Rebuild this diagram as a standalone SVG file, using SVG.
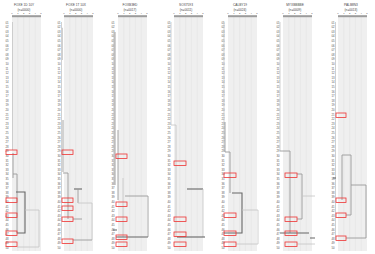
<svg xmlns="http://www.w3.org/2000/svg" xmlns:xlink="http://www.w3.org/1999/xlink" width="375" height="254" viewBox="0 0 375 254">
<style>
.title{font-family:"Liberation Sans",Arial,sans-serif;font-size:3.2px;fill:#444;text-anchor:middle}
.tick{font-family:"Liberation Sans",Arial,sans-serif;font-size:2.4px;fill:#555;text-anchor:middle}
.lab{font-family:"Liberation Sans",Arial,sans-serif;font-size:2.8px;fill:#555}
.plot{fill:#efefef}
.grid{stroke:#e0e0e0;stroke-width:0.5}
.bar{fill:#9c9c9c}
.lt{stroke:#c4c4c4;stroke-width:0.8;fill:none}
.md{stroke:#9a9a9a;stroke-width:0.9;fill:none}
.dk{stroke:#666;stroke-width:1.1;fill:none}
.hl{fill:none;stroke:#ee3333;stroke-width:0.8}
</style>
<defs>
<g id="bg">
<rect class="plot" x="7" y="17" width="29" height="234"/>
<path class="grid" d="M12.8 17V251M18.6 17V251M24.4 17V251M30.2 17V251"/>
<rect class="bar" x="7" y="15.2" width="29" height="2"/>
<text class="tick" y="13.6"><tspan x="7">0</tspan><tspan x="12.8">1</tspan><tspan x="18.6">2</tspan><tspan x="24.4">3</tspan><tspan x="30.2">4</tspan><tspan x="36">5</tspan></text>
<text class="lab"><tspan x="0.5" y="23.5">01</tspan><tspan x="0.5" y="28.1">02</tspan><tspan x="0.5" y="32.7">03</tspan><tspan x="0.5" y="37.3">04</tspan><tspan x="0.5" y="41.9">05</tspan><tspan x="0.5" y="46.5">06</tspan><tspan x="0.5" y="51.1">07</tspan><tspan x="0.5" y="55.7">08</tspan><tspan x="0.5" y="60.3">09</tspan><tspan x="0.5" y="64.9">10</tspan><tspan x="0.5" y="69.5">11</tspan><tspan x="0.5" y="74.1">12</tspan><tspan x="0.5" y="78.7">13</tspan><tspan x="0.5" y="83.3">14</tspan><tspan x="0.5" y="87.9">15</tspan><tspan x="0.5" y="92.5">16</tspan><tspan x="0.5" y="97.1">17</tspan><tspan x="0.5" y="101.7">18</tspan><tspan x="0.5" y="106.3">19</tspan><tspan x="0.5" y="110.9">20</tspan><tspan x="0.5" y="115.5">21</tspan><tspan x="0.5" y="120.1">22</tspan><tspan x="0.5" y="124.7">23</tspan><tspan x="0.5" y="129.3">24</tspan><tspan x="0.5" y="133.9">25</tspan><tspan x="0.5" y="138.5">26</tspan><tspan x="0.5" y="143.1">27</tspan><tspan x="0.5" y="147.7">28</tspan><tspan x="0.5" y="152.3">29</tspan><tspan x="0.5" y="156.9">30</tspan><tspan x="0.5" y="161.5">31</tspan><tspan x="0.5" y="166.1">32</tspan><tspan x="0.5" y="170.7">33</tspan><tspan x="0.5" y="175.3">34</tspan><tspan x="0.5" y="179.9">35</tspan><tspan x="0.5" y="184.5">36</tspan><tspan x="0.5" y="189.1">37</tspan><tspan x="0.5" y="193.7">38</tspan><tspan x="0.5" y="198.3">39</tspan><tspan x="0.5" y="202.9">40</tspan><tspan x="0.5" y="207.5">41</tspan><tspan x="0.5" y="212.1">42</tspan><tspan x="0.5" y="216.7">43</tspan><tspan x="0.5" y="221.3">44</tspan><tspan x="0.5" y="225.9">45</tspan><tspan x="0.5" y="230.5">46</tspan><tspan x="0.5" y="235.1">47</tspan><tspan x="0.5" y="239.7">48</tspan><tspan x="0.5" y="244.3">49</tspan><tspan x="0.5" y="248.9">50</tspan></text>
</g>
</defs>
<rect width="375" height="254" fill="#fff"/>

<g id="panel1">
<use href="#bg" x="5"/>
<text class="title" x="24" y="6">FOXE 1D 10Y</text>
<text class="title" x="24" y="11">(n=0000)</text>
<path class="lt" d="M12.5 22V150"/>
<path class="md" d="M13 153V178M13 174H17V233"/>
<path class="dk" d="M16 192H25V233H17"/>
<path class="lt" d="M25 210H39V247H17"/>
<rect class="hl" x="6" y="150" width="11" height="4.5"/>
<rect class="hl" x="6" y="198" width="11" height="4.5"/>
<rect class="hl" x="6" y="213" width="11" height="4.5"/>
<rect class="hl" x="6" y="231" width="11" height="4.5"/>
<rect class="hl" x="6" y="242" width="11" height="4.5"/>
</g>

<g id="panel2">
<use href="#bg" x="57"/>
<text class="title" x="76" y="6">FOXE 1T 10X</text>
<text class="title" x="76" y="11">(n=0000)</text>
<path class="lt" d="M61.5 22V240M61.5 28H62.5V60"/>
<path class="md" d="M63 120V172M63 173H68V219"/>
<path class="dk" d="M74 189H82"/>
<path class="md" d="M78 189V203"/>
<path class="lt" d="M78 203H92V240"/>
<path class="md" d="M73 240H92M73 219H82"/>
<rect class="hl" x="62" y="150" width="11" height="4.5"/>
<rect class="hl" x="62" y="198" width="11" height="4.5"/>
<rect class="hl" x="62" y="206" width="11" height="4.5"/>
<rect class="hl" x="62" y="217" width="11" height="4.5"/>
<rect class="hl" x="62" y="239" width="11" height="4.5"/>
</g>

<g id="panel3">
<use href="#bg" x="111"/>
<text class="title" x="130" y="6">FOXB3ED</text>
<text class="title" x="130" y="11">(n=0017)</text>
<rect x="113.5" y="32" width="2.2" height="153" fill="#bdbdbd"/>
<path class="md" d="M118 130V200"/>
<path class="lt" d="M123 178V237"/>
<path class="md" d="M125 196H148V237"/>
<path class="dk" d="M116 237H148M113 230H117"/>
<rect class="hl" x="116" y="154" width="11" height="4.5"/>
<rect class="hl" x="116" y="202" width="11" height="4.5"/>
<rect class="hl" x="116" y="217" width="11" height="4.5"/>
<rect class="hl" x="116" y="235" width="11" height="4.5"/>
<rect class="hl" x="116" y="242" width="11" height="4.5"/>
</g>

<g id="panel4">
<use href="#bg" x="167"/>
<text class="title" x="186" y="6">SOX7593</text>
<text class="title" x="186" y="11">(n=0011)</text>
<path class="lt" d="M171 22V125H176V237"/>
<path class="dk" d="M187 189H203"/>
<path class="lt" d="M203 189V237"/>
<path class="dk" d="M177 237H205"/>
<rect class="hl" x="174" y="161" width="12" height="4.5"/>
<rect class="hl" x="174" y="217" width="12" height="4.5"/>
<rect class="hl" x="174" y="232" width="12" height="4.5"/>
<rect class="hl" x="174" y="242" width="12" height="4.5"/>
</g>

<g id="panel5">
<use href="#bg" x="221"/>
<text class="title" x="240" y="6">CALBY19</text>
<text class="title" x="240" y="11">(n=0024)</text>
<path class="lt" d="M224 22V152"/>
<path class="md" d="M225 122V152H230V193"/>
<path class="dk" d="M232 193H242V233H224"/>
<path class="lt" d="M242 210H258V244H236"/>
<rect class="hl" x="224" y="173" width="12" height="4.5"/>
<rect class="hl" x="224" y="213" width="12" height="4.5"/>
<rect class="hl" x="224" y="231" width="12" height="4.5"/>
<rect class="hl" x="224" y="242" width="12" height="4.5"/>
</g>

<g id="panel6">
<use href="#bg" x="276"/>
<text class="title" x="295" y="6">MYXBBBBE</text>
<text class="title" x="295" y="11">(n=0009)</text>
<path class="lt" d="M280 22V151"/>
<path class="md" d="M280 151H290V233"/>
<path class="md" d="M297 174H302V219H297"/>
<path class="lt" d="M302 196H315M297 244H315"/>
<path class="dk" d="M280 233H309M310 238H315"/>
<rect class="hl" x="285" y="173" width="12" height="4.5"/>
<rect class="hl" x="285" y="217" width="12" height="4.5"/>
<rect class="hl" x="285" y="231" width="12" height="4.5"/>
<rect class="hl" x="285" y="242" width="12" height="4.5"/>
</g>

<g id="panel7">
<use href="#bg" x="331"/>
<text class="title" x="351" y="6">PALB8N3</text>
<text class="title" x="351" y="11">(n=0013)</text>
<path class="lt" d="M335.5 22V240"/>
<path class="md" d="M342 155H351V215H346M342 155V200"/>
<path class="md" d="M351 185H366V238H346"/>
<path class="dk" d="M333 178H336"/>
<rect class="hl" x="336" y="113" width="10" height="4.5"/>
<rect class="hl" x="336" y="198" width="10" height="4.5"/>
<rect class="hl" x="336" y="213" width="10" height="4.5"/>
<rect class="hl" x="336" y="236" width="10" height="4.5"/>
</g>
</svg>
